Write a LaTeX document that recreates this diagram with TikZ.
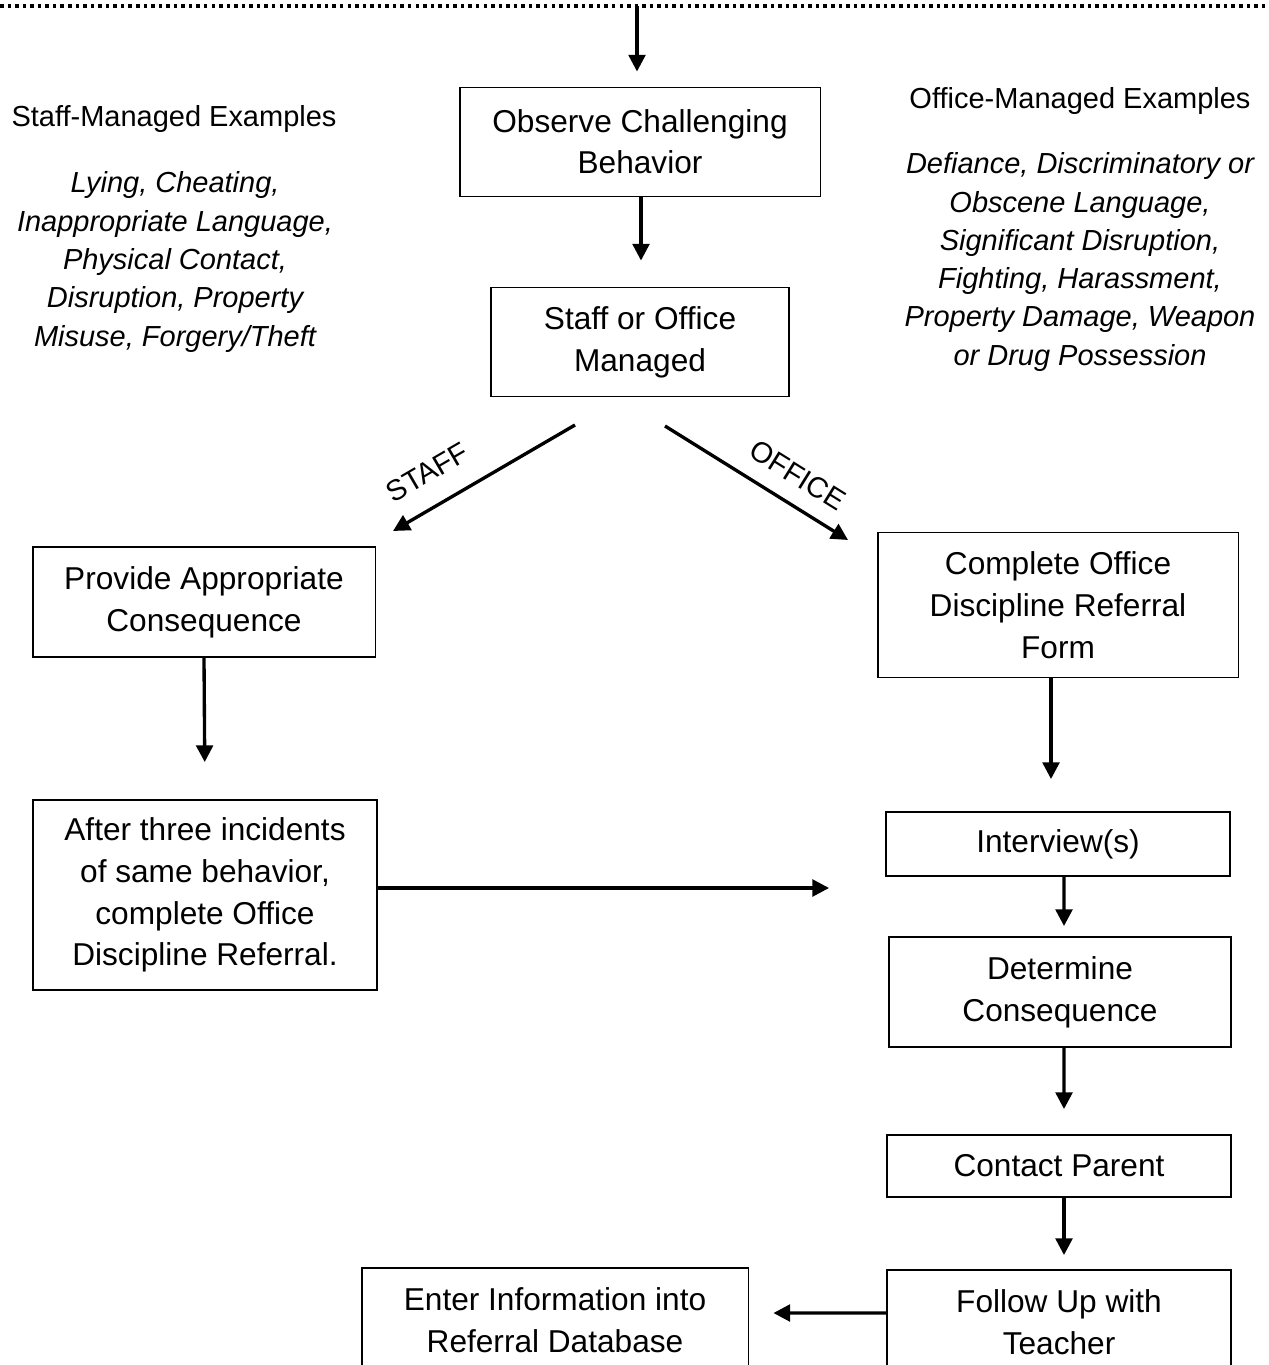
\documentclass[tikz,border=0pt]{standalone}
\usepackage{fontspec}
\setmainfont{Liberation Sans}
\usetikzlibrary{arrows.meta}
\tikzset{
  box/.style={draw, line width=1.1pt, align=center, inner sep=0pt,
    font=\fontsize{18}{23.8}\selectfont},
  flow/.style={line width=1.9pt, -{Triangle[length=9.5pt,width=9.5pt]}},
  side/.style={align=center, font=\fontsize{16.5}{21.8}\selectfont},
  sidelist/.style={align=center, font=\fontsize{16.5}{21.8}\selectfont\itshape},
  branch/.style={font=\fontsize{16.5}{18}\selectfont},
  dotline/.style={line width=2pt, dash pattern=on 2pt off 2.3pt}
}
\begin{document}
\begin{tikzpicture}[x=0.02cm, y=-0.02cm]
      \useasboundingbox (0,0) rectangle (1268,1365);
      \coordinate (lineL) at (0,6);
      \coordinate (lineR) at (1268,6);
      \coordinate (topc) at (637,6);
      \draw[dotline] (lineL) -- (lineR);

      % side notes
      \node[side] (staffhead) at (174,119) {Staff-Managed Examples};
      \node[sidelist] (stafflist) at (175,262) {Lying, Cheating,\\Inappropriate Language,\\Physical Contact,\\Disruption, Property\\Misuse, Forgery/Theft};
      \node[side] (officehead) at (1080,101) {Office-Managed Examples};
      \node[sidelist] (officelist) at (1080,262) {Defiance, Discriminatory or\\Obscene Language,\\Significant Disruption,\\Fighting, Harassment,\\Property Damage, Weapon\\or Drug Possession};

      % boxes
      \node[box, minimum width=7.22cm, minimum height=2.18cm] (obs) at (640,142) {Observe Challenging\\[-0.5pt]Behavior};
      \node[box, minimum width=5.96cm, minimum height=2.18cm] (som) at (640,342) {Staff or Office\\Managed};
      \node[box, minimum width=6.86cm, minimum height=2.2cm] (prov) at (204,602) {Provide Appropriate\\Consequence};
      \node[box, minimum width=7.22cm, minimum height=2.9cm] (comp) at (1058,605) {Complete Office\\Discipline Referral\\Form};
      \node[box, minimum width=6.88cm, minimum height=3.8cm] (after) at (205,895) {After three incidents\\of same behavior,\\complete Office\\Discipline Referral.};
      \node[box, minimum width=6.88cm, minimum height=1.28cm] (intv) at (1058,844) {Interview(s)};
      \node[box, minimum width=6.84cm, minimum height=2.2cm] (det) at (1060,992) {Determine\\Consequence};
      \node[box, minimum width=6.88cm, minimum height=1.24cm] (cont) at (1059,1166) {Contact Parent};
      \node[box, minimum width=6.88cm, minimum height=2.08cm] (foll) at (1059,1322) {Follow Up with\\Teacher};
      \node[box, minimum width=7.74cm, minimum height=2.08cm] (enter) at (555,1320) {Enter Information into\\Referral Database};

      \coordinate (staffS) at (575,425);
      \coordinate (staffE) at (393,531);
      \coordinate (officeS) at (665,426);
      \coordinate (officeE) at (848,540);

      \begin{scope}[flow]
        \draw[shorten >=0.3cm] (topc) -- (topc |- obs.north);
        \draw[shorten >=0.52cm] ([xshift=0.02cm]obs.south) -- ([xshift=0.02cm]som.north);
        \draw (staffS) -- node[branch, sloped, above, yshift=9pt, pos=0.72] {STAFF} (staffE);
        \draw (officeS) -- node[branch, sloped, above, yshift=6pt, pos=0.645] {OFFICE} (officeE);
        \draw[shorten >=0.74cm] (prov.south) -- (after.north);
        \draw[shorten >=0.64cm] ([xshift=-0.14cm]comp.south) -- ([xshift=-0.14cm]intv.north);
        \draw[shorten >=1.12cm] ([yshift=0.14cm]after.east) -- ([yshift=0.14cm]after.east -| intv.west);
        \draw[shorten >=0.2cm] ([xshift=0.12cm]intv.south) -- ([xshift=0.08cm]det.north);
        \draw[shorten >=0.5cm] ([xshift=0.08cm]det.south) -- ([xshift=0.1cm]cont.north);
        \draw[shorten >=0.28cm] ([xshift=0.1cm]cont.south) -- ([xshift=0.1cm]foll.north);
        \draw[shorten >=0.48cm] ([yshift=0.18cm]foll.west) -- ([yshift=0.14cm]enter.east);
      \end{scope}
    \end{tikzpicture}
\end{document}
